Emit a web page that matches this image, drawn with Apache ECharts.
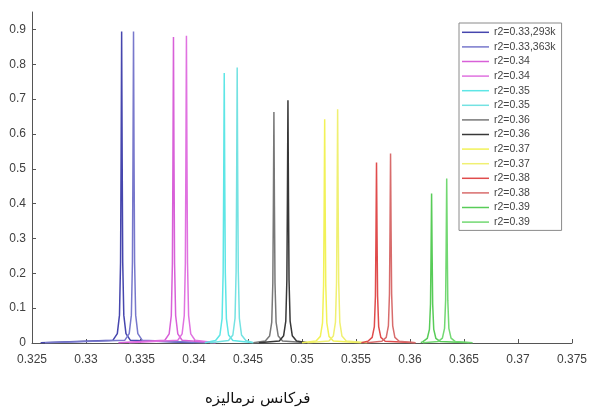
<!DOCTYPE html>
<html><head><meta charset="utf-8">
<script src="https://cdn.jsdelivr.net/npm/echarts@6/dist/echarts.min.js"></script>
<style>html,body{margin:0;padding:0;background:#fff}#c{width:590px;height:413px}</style>
</head><body><div id="c"></div>
<script>
// x-axis ticks
const xTicks = [0.325,0.33,0.335,0.34,0.345,0.35,0.355,0.36,0.365,0.37,0.375];
const yTicks = [0,0.1,0.2,0.3,0.4,0.5,0.6,0.7,0.8,0.9];
const seriesNames = ['r2=0.33,293k','r2=0.33,363k','r2=0.34','r2=0.34','r2=0.35','r2=0.35','r2=0.36','r2=0.36','r2=0.37','r2=0.37','r2=0.38','r2=0.38','r2=0.39','r2=0.39'];
const seriesColors = ['#4646ae','#7878cc','#d860d8','#e072e0','#5ee6e6','#74e2e2','#787878','#383838','#f2f258','#f0f072','#e04c4c','#d86c6c','#58cc58','#72d872'];

// [frequency, amplitude] pairs
const s1 = [[0.3258,0.001],[0.3325,0.008],[0.3329,0.027],[0.3331,0.080],[0.3332,0.232],[0.33325,0.527],[0.3333,0.894],[0.33335,0.527],[0.3334,0.232],[0.3335,0.080],[0.3337,0.027],[0.3341,0.008],[0.3400,0.001]];
const s2 = [[0.3262,0.001],[0.3336,0.008],[0.3340,0.027],[0.3342,0.080],[0.3343,0.232],[0.33435,0.527],[0.3344,0.894],[0.33445,0.527],[0.3345,0.232],[0.3346,0.080],[0.3348,0.027],[0.3352,0.008],[0.3410,0.001]];
const s3 = [[0.3330,0.001],[0.3373,0.008],[0.3377,0.026],[0.3379,0.079],[0.3380,0.228],[0.33805,0.518],[0.3381,0.878],[0.33815,0.518],[0.3382,0.228],[0.3383,0.079],[0.3385,0.026],[0.3389,0.008],[0.3420,0.001]];
const s4 = [[0.3340,0.001],[0.3385,0.008],[0.3389,0.026],[0.3391,0.079],[0.3392,0.229],[0.33925,0.520],[0.3393,0.882],[0.33935,0.520],[0.3394,0.229],[0.3395,0.079],[0.3397,0.026],[0.3401,0.008],[0.3420,0.001]];
const s5 = [[0.3410,0.001],[0.3420,0.007],[0.3424,0.023],[0.3426,0.070],[0.3427,0.202],[0.34275,0.457],[0.3428,0.775],[0.34285,0.457],[0.3429,0.202],[0.3430,0.070],[0.3432,0.023],[0.3436,0.007],[0.3455,0.001]];
const s6 = [[0.3415,0.001],[0.3432,0.007],[0.3436,0.023],[0.3438,0.071],[0.3439,0.206],[0.34395,0.467],[0.3440,0.791],[0.34405,0.467],[0.3441,0.206],[0.3442,0.071],[0.3444,0.023],[0.3448,0.007],[0.3455,0.001]];
const s7 = [[0.3455,0.001],[0.3466,0.006],[0.3470,0.020],[0.3472,0.060],[0.3473,0.172],[0.34735,0.391],[0.3474,0.663],[0.34745,0.391],[0.3475,0.172],[0.3476,0.060],[0.3478,0.020],[0.3482,0.006],[0.3505,0.001]];
const s8 = [[0.3460,0.001],[0.3479,0.006],[0.3483,0.021],[0.3485,0.063],[0.3486,0.181],[0.34865,0.411],[0.3487,0.697],[0.34875,0.411],[0.3488,0.181],[0.3489,0.063],[0.3491,0.021],[0.3495,0.006],[0.3505,0.001]];
const s9 = [[0.3500,0.001],[0.3513,0.006],[0.3517,0.019],[0.3519,0.058],[0.3520,0.167],[0.35205,0.379],[0.3521,0.642],[0.35215,0.379],[0.3522,0.167],[0.3523,0.058],[0.3525,0.019],[0.3529,0.006],[0.3555,0.001]];
const s10 = [[0.3505,0.001],[0.3525,0.006],[0.3529,0.020],[0.3531,0.060],[0.3532,0.174],[0.35325,0.396],[0.3533,0.671],[0.35335,0.396],[0.3534,0.174],[0.3535,0.060],[0.3537,0.020],[0.3541,0.006],[0.3560,0.001]];
const s11 = [[0.3555,0.001],[0.3561,0.005],[0.3565,0.016],[0.3567,0.047],[0.3568,0.135],[0.35685,0.306],[0.3569,0.518],[0.35695,0.306],[0.3570,0.135],[0.3571,0.047],[0.3573,0.016],[0.3577,0.005],[0.3605,0.001]];
const s12 = [[0.3560,0.001],[0.3574,0.005],[0.3578,0.016],[0.3580,0.049],[0.3581,0.141],[0.35815,0.321],[0.3582,0.544],[0.35825,0.321],[0.3583,0.141],[0.3584,0.049],[0.3586,0.016],[0.3590,0.005],[0.3605,0.001]];
const s13 = [[0.3610,0.001],[0.3612,0.004],[0.3616,0.013],[0.3618,0.039],[0.3619,0.112],[0.36195,0.253],[0.3620,0.429],[0.36205,0.253],[0.3621,0.112],[0.3622,0.039],[0.3624,0.013],[0.3628,0.004],[0.3655,0.001]];
const s14 = [[0.3612,0.001],[0.3626,0.004],[0.3630,0.014],[0.3632,0.042],[0.3633,0.123],[0.36335,0.278],[0.3634,0.472],[0.36345,0.278],[0.3635,0.123],[0.3636,0.042],[0.3638,0.014],[0.3642,0.004],[0.3658,0.001]];
const allData = [s1,s2,s3,s4,s5,s6,s7,s8,s9,s10,s11,s12,s13,s14];
const xLabel = 'فرکانس نرمالیزه';

const chart = echarts.init(document.getElementById('c'), null, {renderer:'canvas'});
const axisCol = '#555';
const labCol = '#404040';
chart.setOption({
  animation:false,
  backgroundColor:'#fff',
  grid:{left:32,right:17,top:12,bottom:70,containLabel:false},
  xAxis:{type:'value',min:xTicks[0],max:xTicks[xTicks.length-1],interval:0.005,
    axisLine:{lineStyle:{color:axisCol,width:1}},
    axisTick:{inside:true,length:4,lineStyle:{color:axisCol}},
    splitLine:{show:false},
    axisLabel:{color:labCol,fontSize:12,fontFamily:'Liberation Sans',margin:11,
      formatter:v=>{const t=xTicks.find(a=>Math.abs(a-v)<1e-9);return t===undefined?'':String(t);}}},
  yAxis:{type:'value',min:0,max:0.95,interval:0.1,
    axisLine:{show:true,lineStyle:{color:axisCol,width:1}},
    axisTick:{inside:true,length:4,lineStyle:{color:axisCol}},
    splitLine:{show:false},
    axisLabel:{color:labCol,fontSize:12,fontFamily:'Liberation Sans',margin:6,showMaxLabel:false,
      formatter:v=>{const t=yTicks.find(a=>Math.abs(a-v)<1e-9);return t===undefined?'':String(t);}}},
  legend:{left:459,top:23,orient:'vertical',selectedMode:false,
    backgroundColor:'#fff',borderColor:'#8a8a8a',borderWidth:1,padding:[2,6,1,3],
    itemGap:0,itemWidth:27,itemHeight:1.5,icon:'rect',
    textStyle:{fontSize:10.5,fontFamily:'Liberation Sans',color:'#444',lineHeight:14.6},
    data:seriesNames.map((n,i)=>({name:n+'\u200b'.repeat(i),itemStyle:{color:seriesColors[i]}}))},
  graphic:[{type:'text',left:205,top:392,
    style:{text:xLabel,fontSize:15,fontFamily:'DejaVu Sans',fill:'#111'}}],
  series:allData.map((d,i)=>({name:seriesNames[i]+'\u200b'.repeat(i),type:'line',data:d,
    showSymbol:false,symbol:'none',smooth:false,
    lineStyle:{color:seriesColors[i],width:1.5},itemStyle:{color:seriesColors[i]},z:2+i}))
});
</script></body></html>
